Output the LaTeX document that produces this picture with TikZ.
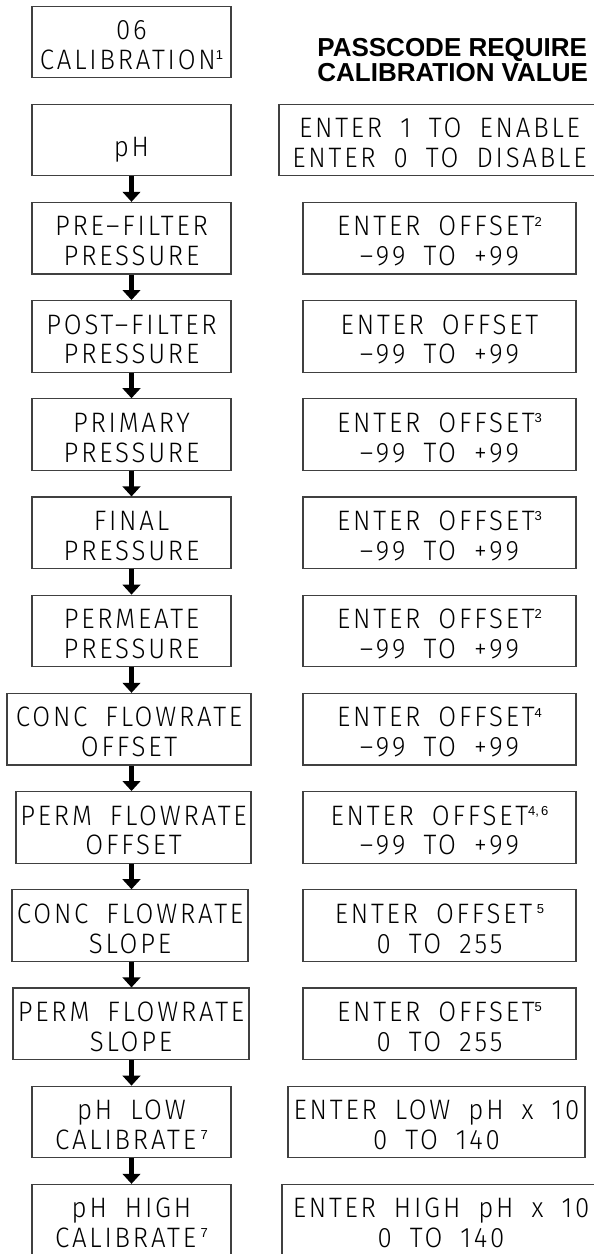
\documentclass[tikz,border=0pt]{standalone}
\usepackage{fontspec}
\usetikzlibrary{arrows.meta}
\newfontfamily\cadfont{Fira Sans}[UprightFont=* Light, LetterSpace=10, WordSpace=1.8, FakeStretch=0.92]
\newfontfamily\headfont{Liberation Sans}
\newcommand\fn[1]{\raisebox{5.6pt}{\headfont\fontsize{7.4}{7.4}\selectfont #1}}
\begin{document}
\begin{tikzpicture}[x=0.02cm, y=-0.02cm,
    box/.style={draw=black!75, line width=0.7pt, inner sep=0pt, minimum height=1.43cm,
        align=center, text height=31.4pt, text depth=0pt,
        font=\cadfont\fontsize{16}{17}\selectfont},
    flow/.style={line width=2.3pt, -{Triangle[width=10pt,length=5.7pt]}},
    head/.style={anchor=north west, inner sep=0pt, align=left,
        font=\headfont\bfseries\fontsize{14.8}{14.2}\selectfont}]
    % Page and crop
    \useasboundingbox (0,0) rectangle (594,1254);
    \clip (0,0) rectangle (594,1254);

    % Heading
    \node[head] (title) at (317,38) {PASSCODE REQUIRE\\CALIBRATION VALUE};

    % Menu column
    \node[box, minimum width=3.98cm] (calib) at (131.5,42) {06\\CALIBRATION\fn{1}};
    \node[box, minimum width=3.98cm, text height=19pt] (ph) at (131.5,140) {pH};
    \node[box, minimum width=3.98cm] (pre)   at (131.5,238.2) {PRE–FILTER\\PRESSURE};
    \node[box, minimum width=3.98cm] (post)  at (131.5,336.4) {POST–FILTER\\PRESSURE};
    \node[box, minimum width=3.98cm] (prim)  at (131.5,434.6) {PRIMARY\\PRESSURE};
    \node[box, minimum width=3.98cm] (fin)   at (131.5,532.8) {FINAL\\PRESSURE};
    \node[box, minimum width=3.98cm] (perm)  at (131.5,631) {PERMEATE\\PRESSURE};
    \node[box, minimum width=4.88cm] (cfo)   at (129,729.2) {CONC FLOWRATE\\OFFSET};
    \node[box, minimum width=4.70cm] (pfo)   at (133.5,827.4) {PERM FLOWRATE\\OFFSET};
    \node[box, minimum width=4.72cm] (cfs)   at (130,925.6) {CONC FLOWRATE\\SLOPE};
    \node[box, minimum width=4.72cm] (pfs)   at (131,1023.8) {PERM FLOWRATE\\SLOPE};
    \node[box, minimum width=3.98cm] (phlo)  at (131.5,1122) {pH LOW\\CALIBRATE\,\fn{7}};
    \node[box, minimum width=3.98cm] (phhi)  at (131.5,1220.2) {pH HIGH\\CALIBRATE\,\fn{7}};

    % Value column
    \node[box, minimum width=6.42cm] (vph)   at (439.5,140) {ENTER 1 TO ENABLE\\ENTER 0 TO DISABLE};
    \node[box, minimum width=5.46cm] (vpre)  at (439.5,238.2) {ENTER OFFSET\fn{2}\\–99 TO +99};
    \node[box, minimum width=5.46cm] (vpost) at (439.5,336.4) {ENTER OFFSET\\–99 TO +99};
    \node[box, minimum width=5.46cm] (vprim) at (439.5,434.6) {ENTER OFFSET\fn{3}\\–99 TO +99};
    \node[box, minimum width=5.46cm] (vfin)  at (439.5,532.8) {ENTER OFFSET\fn{3}\\–99 TO +99};
    \node[box, minimum width=5.46cm] (vperm) at (439.5,631) {ENTER OFFSET\fn{2}\\–99 TO +99};
    \node[box, minimum width=5.46cm] (vcfo)  at (439.5,729.2) {ENTER OFFSET\fn{4}\\–99 TO +99};
    \node[box, minimum width=5.46cm] (vpfo)  at (439.5,827.4) {ENTER OFFSET\fn{4,\,6}\\–99 TO +99};
    \node[box, minimum width=5.46cm] (vcfs)  at (439.5,925.6) {ENTER OFFSET\,\fn{5}\\0 TO 255};
    \node[box, minimum width=5.46cm] (vpfs)  at (439.5,1023.8) {ENTER OFFSET\fn{5}\\0 TO 255};
    \node[box, minimum width=5.94cm] (vphlo) at (436.5,1122) {ENTER LOW pH x 10\\0 TO 140};
    \node[box, minimum width=6.36cm] (vphhi) at (441,1220.2) {ENTER HIGH pH x 10\\0 TO 140};

    % Arrows down the menu
    \coordinate (axis) at (131.5,0);
    \foreach \a/\b in {ph/pre, pre/post, post/prim, prim/fin, fin/perm, perm/cfo,
        cfo/pfo, pfo/cfs, cfs/pfs, pfs/phlo, phlo/phhi} {
        \draw[flow] (\a.south -| axis) -- (\b.north -| axis);
    }
\end{tikzpicture}
\end{document}
